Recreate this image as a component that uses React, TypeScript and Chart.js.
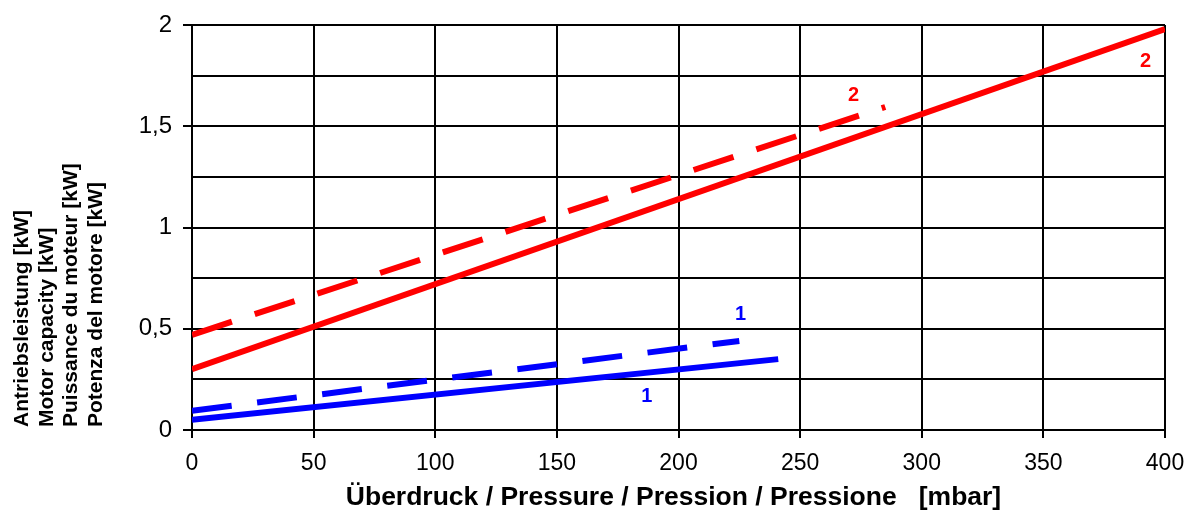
import React, { useEffect, useRef } from "react";
import { Chart, registerables } from "chart.js";

Chart.register(...registerables);

// Data (x: pressure mbar, y: motor capacity kW)
const red2SolidX = [0, 400];
const red2SolidY = [0.3, 1.98];
const red2DashedX = [0, 285];
const red2DashedY = [0.47, 1.595];
const blue1SolidX = [0, 241];
const blue1SolidY = [0.05, 0.35];
const blue1DashedX = [0, 225];
const blue1DashedY = [0.095, 0.44];

const curveLabels = ["2", "2", "1", "1"];
const curveLabelX = [392, 272, 225.5, 187];
const curveLabelY = [1.82, 1.65, 0.57, 0.165];
const curveLabelColors = ["#ff0000", "#ff0000", "#0000ff", "#0000ff"];

const xTitle = "Überdruck / Pressure / Pression / Pressione   [mbar]";
const yTitleLines = [
  "Antriebsleistung [kW]",
  "Motor capacity [kW]",
  "Puissance du moteur [kW]",
  "Potenza del motore [kW]",
];

const toPts = (xs: number[], ys: number[]) => xs.map((x, i) => ({ x, y: ys[i] }));

const FONT = "'Liberation Sans', Arial, sans-serif";

const textPlugin = {
  id: "customText",
  afterDraw(chart: any) {
    const { ctx, scales, chartArea } = chart;
    const xs = scales.x;
    const ys = scales.y;
    ctx.save();
    // curve labels
    ctx.font = `bold 20px ${FONT}`;
    ctx.textAlign = "center";
    ctx.textBaseline = "middle";
    curveLabels.forEach((t, i) => {
      ctx.fillStyle = curveLabelColors[i];
      ctx.fillText(t, xs.getPixelForValue(curveLabelX[i]), ys.getPixelForValue(curveLabelY[i]));
    });
    // x title
    ctx.fillStyle = "#000";
    ctx.font = `bold 26.5px ${FONT}`;
    ctx.textAlign = "center";
    ctx.textBaseline = "middle";
    ctx.fillText(xTitle, (chartArea.left + chartArea.right) / 2 - 5, 498);
    // y title (rotated, lines left-aligned at bottom)
    ctx.font = `bold 21px ${FONT}`;
    ctx.textAlign = "left";
    ctx.textBaseline = "middle";
    yTitleLines.forEach((t, i) => {
      ctx.save();
      ctx.translate(22.5 + i * 24.5, 427);
      ctx.rotate(-Math.PI / 2);
      ctx.fillText(t, 0, 0);
      ctx.restore();
    });
    ctx.restore();
  },
};

export default function App() {
  const ref = useRef<HTMLCanvasElement | null>(null);
  useEffect(() => {
    document.body.style.margin = "0";
    const canvas = ref.current!;
    const chart = new Chart(canvas, {
      type: "scatter",
      data: {
        datasets: [
          {
            data: toPts(red2SolidX, red2SolidY),
            showLine: true,
            borderColor: "#ff0000",
            borderWidth: 6,
            pointRadius: 0,
          },
          {
            data: toPts(red2DashedX, red2DashedY),
            showLine: true,
            borderColor: "#ff0000",
            borderWidth: 6,
            borderDash: [42, 24],
            pointRadius: 0,
          },
          {
            data: toPts(blue1SolidX, blue1SolidY),
            showLine: true,
            borderColor: "#0000ff",
            borderWidth: 6,
            pointRadius: 0,
          },
          {
            data: toPts(blue1DashedX, blue1DashedY),
            showLine: true,
            borderColor: "#0000ff",
            borderWidth: 6,
            borderDash: [40, 25.6],
            pointRadius: 0,
          },
        ],
      },
      options: {
        animation: false,
        responsive: false,
        maintainAspectRatio: false,
        layout: { padding: { top: 25, right: 23, left: 0, bottom: 0 } },
        plugins: { legend: { display: false }, tooltip: { enabled: false } },
        scales: {
          x: {
            type: "linear",
            min: 0,
            max: 400,
            afterFit: (s: any) => {
              s.height = 91;
              s.paddingLeft = 0;
              s.paddingRight = 0;
            },
            ticks: {
              stepSize: 50,
              color: "#000",
              font: { family: FONT, size: 23 },
              padding: 12,
            },
            grid: { color: "#000", lineWidth: 2, tickLength: 8, tickColor: "#000" },
            border: { color: "#000", width: 2 },
          },
          y: {
            type: "linear",
            min: 0,
            max: 2,
            afterFit: (s: any) => {
              s.width = 192;
              s.paddingTop = 0;
              s.paddingBottom = 0;
            },
            ticks: {
              stepSize: 0.25,
              color: "#000",
              font: { family: FONT, size: 24 },
              padding: 11,
              callback: (v: any) =>
                Math.abs((v as number) * 2 - Math.round((v as number) * 2)) < 1e-9
                  ? String(v).replace(".", ",")
                  : "",
            },
            grid: {
              color: "#000",
              lineWidth: 2,
              tickLength: 9,
              tickColor: (c: any) =>
                c.tick && Math.abs(c.tick.value * 2 - Math.round(c.tick.value * 2)) < 1e-9
                  ? "#000"
                  : "rgba(0,0,0,0)",
            },
            border: { color: "#000", width: 2 },
          },
        },
      },
      plugins: [textPlugin],
    });
    return () => chart.destroy();
  }, []);
  return (
    <div style={{ position: "fixed", left: 0, top: 0, width: 1188, height: 521, background: "#fff" }}>
      <canvas ref={ref} width={1188} height={521} style={{ width: 1188, height: 521 }} />
    </div>
  );
}
